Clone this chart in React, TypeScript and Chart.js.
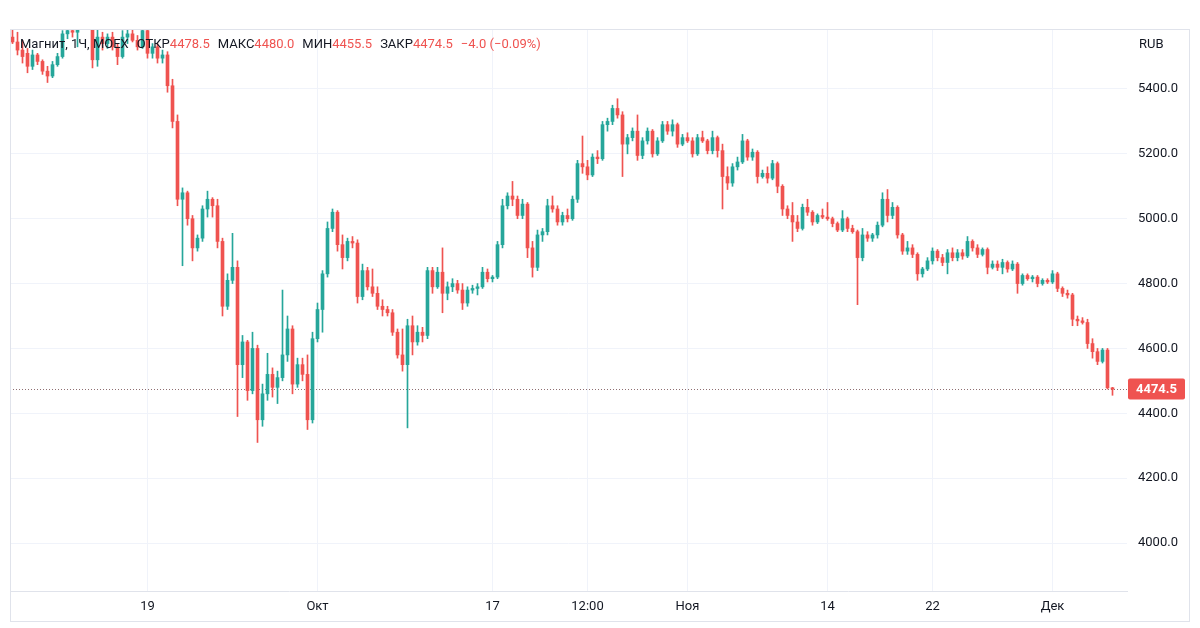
import { useEffect, useRef } from 'react';
import { Chart, registerables } from 'chart.js';

Chart.register(...registerables);

// ---------- data (hourly candles) ----------
const opens = [
  5560, 5545, 5520, 5510, 5470, 5505, 5485, 5455, 5440, 5475,
  5500, 5570, 5580, 5575, 5600, 5630, 5605, 5490, 5560, 5540,
  5560, 5530, 5500, 5560, 5570, 5550, 5530, 5580, 5510, 5530,
  5495, 5505, 5410, 5300, 5060, 5080, 5000, 4910, 4940, 5030,
  5060, 5040, 4930, 4730, 4810, 4850, 4550, 4620, 4470, 4600,
  4380, 4460, 4520, 4480, 4510, 4580, 4660, 4490, 4550, 4520,
  4380, 4630, 4720, 4830, 4970, 5020, 4920, 4880, 4930, 4925,
  4760, 4840, 4790, 4770, 4730, 4720, 4710, 4650, 4580, 4550,
  4670, 4620, 4650, 4640, 4840, 4790, 4835, 4770, 4790, 4800,
  4780, 4740, 4780, 4785, 4790, 4835, 4815, 4820, 4920, 5040,
  5070, 5060, 5010, 5045, 4910, 4850, 4950, 4960, 5040, 5030,
  4990, 5010, 5000, 5060, 5170, 5160, 5135, 5190, 5185, 5290,
  5300, 5340, 5320, 5230, 5250, 5270, 5195, 5240, 5270, 5200,
  5240, 5290, 5270, 5290, 5230, 5250, 5240, 5200, 5250, 5240,
  5210, 5250, 5210, 5130, 5110, 5160, 5175, 5240, 5190, 5205,
  5130, 5140, 5125, 5170, 5100, 5030, 5010, 4990, 4970, 5035,
  5020, 4990, 5010, 5005, 5000, 4985, 4965, 5000, 4970, 4960,
  4880, 4950, 4940, 4950, 4980, 5060, 5010, 5035, 4950, 4900,
  4910, 4890, 4830, 4845, 4870, 4900, 4880, 4865, 4895, 4880,
  4895, 4885, 4930, 4910, 4890, 4905, 4850, 4860, 4850, 4865,
  4845, 4860, 4800, 4825, 4815, 4820, 4800, 4810, 4805, 4830,
  4785, 4770, 4765, 4690, 4685, 4680, 4615, 4590, 4560, 4595,
  4478.5,
];
const highs = [
  5620, 5575, 5550, 5525, 5520, 5510, 5490, 5470, 5485, 5510,
  5580, 5600, 5610, 5600, 5650, 5660, 5620, 5590, 5575, 5570,
  5575, 5540, 5580, 5590, 5585, 5565, 5600, 5590, 5540, 5540,
  5520, 5515, 5430, 5320, 5095, 5085, 5010, 4950, 5040, 5085,
  5065, 5060, 4940, 4830, 4955, 4870, 4640, 4625, 4650, 4610,
  4490, 4585, 4540, 4530, 4780, 4700, 4670, 4570, 4570, 4580,
  4650, 4740, 4840, 4990, 5030, 5025, 4950, 4940, 4945, 4935,
  4860, 4850, 4845, 4790, 4750, 4730, 4720, 4660, 4660, 4690,
  4700, 4670, 4665, 4850, 4850, 4850, 4910, 4805, 4815, 4810,
  4800, 4790, 4795, 4800, 4850, 4845, 4825, 4930, 5060, 5080,
  5115, 5070, 5060, 5050, 4930, 4965, 4970, 5060, 5070, 5040,
  5020, 5030, 5070, 5180, 5255, 5180, 5200, 5210, 5300, 5310,
  5350, 5370, 5330, 5260, 5280, 5320, 5250, 5280, 5275, 5250,
  5300, 5300, 5305, 5295, 5260, 5265, 5250, 5260, 5270, 5245,
  5270, 5255, 5230, 5160, 5170, 5190, 5260, 5245, 5215, 5210,
  5150, 5160, 5180, 5175, 5105, 5040, 5050, 5010, 5045, 5060,
  5025, 5015, 5030, 5050, 5005, 4990, 5025, 5005, 4980, 4965,
  4970, 4960, 4955, 4990, 5080, 5090, 5050, 5040, 4955, 4930,
  4920, 4895, 4850, 4880, 4910, 4905, 4890, 4905, 4910, 4905,
  4905, 4945, 4935, 4920, 4910, 4910, 4870, 4870, 4875, 4870,
  4870, 4865, 4830, 4830, 4825, 4825, 4815, 4815, 4840, 4835,
  4790, 4780, 4770, 4700, 4695, 4690, 4630, 4600, 4600, 4600,
  4480,
];
const lows = [
  5540, 5505, 5480, 5450, 5460, 5475, 5445, 5420, 5435, 5470,
  5495, 5555, 5560, 5530, 5590, 5600, 5465, 5470, 5520, 5525,
  5520, 5475, 5495, 5540, 5545, 5520, 5525, 5495, 5495, 5480,
  5480, 5390, 5280, 5040, 4855, 4980, 4870, 4900, 4930, 5005,
  5005, 4910, 4700, 4720, 4800, 4390, 4510, 4440, 4460, 4310,
  4360, 4440, 4450, 4430, 4500, 4560, 4460, 4480, 4500, 4350,
  4370, 4620, 4650, 4820, 4960, 4900, 4845, 4870, 4910, 4740,
  4750, 4780, 4760, 4720, 4700, 4700, 4640, 4570, 4530, 4355,
  4580, 4610, 4620, 4630, 4770, 4785, 4710, 4750, 4775, 4770,
  4720, 4730, 4770, 4765, 4785, 4805, 4805, 4815, 4910, 5030,
  5040, 5000, 5000, 4880, 4820, 4840, 4930, 4950, 5020, 4980,
  4980, 4990, 4995, 5050, 5140, 5120, 5130, 5170, 5180, 5270,
  5290, 5310, 5130, 5200, 5240, 5180, 5185, 5230, 5190, 5195,
  5235, 5260, 5255, 5220, 5225, 5235, 5190, 5195, 5235, 5200,
  5200, 5190, 5030, 5090, 5100, 5150, 5170, 5180, 5180, 5110,
  5125, 5110, 5120, 5080, 5010, 5000, 4930, 4960, 4965, 5010,
  4980, 4985, 5000, 4995, 4975, 4960, 4960, 4960, 4955, 4735,
  4870, 4930, 4930, 4940, 4975, 4990, 5000, 4940, 4890, 4890,
  4880, 4810, 4820, 4840, 4860, 4870, 4855, 4830, 4870, 4870,
  4875, 4880, 4900, 4880, 4885, 4830, 4845, 4840, 4830, 4835,
  4840, 4770, 4795, 4810, 4805, 4790, 4795, 4800, 4800, 4775,
  4760, 4755, 4670, 4670, 4675, 4600, 4570, 4550, 4555, 4475,
  4455.5,
];
const closes = [
  5545, 5520, 5500, 5470, 5505, 5485, 5455, 5440, 5475, 5500,
  5570, 5580, 5575, 5595, 5630, 5615, 5490, 5560, 5540, 5560,
  5530, 5500, 5560, 5570, 5550, 5530, 5580, 5510, 5530, 5495,
  5505, 5410, 5300, 5060, 5080, 5000, 4910, 4940, 5030, 5060,
  5040, 4930, 4730, 4810, 4850, 4550, 4620, 4470, 4600, 4380,
  4460, 4520, 4480, 4510, 4580, 4660, 4490, 4550, 4520, 4380,
  4630, 4720, 4830, 4970, 5020, 4920, 4880, 4930, 4925, 4760,
  4840, 4790, 4770, 4730, 4720, 4710, 4650, 4580, 4550, 4670,
  4620, 4650, 4640, 4840, 4790, 4835, 4770, 4790, 4800, 4780,
  4740, 4780, 4785, 4790, 4835, 4815, 4820, 4920, 5040, 5070,
  5060, 5010, 5045, 4910, 4850, 4950, 4960, 5040, 5030, 4990,
  5010, 5000, 5060, 5170, 5160, 5135, 5190, 5185, 5290, 5300,
  5340, 5320, 5230, 5250, 5270, 5195, 5240, 5270, 5200, 5240,
  5290, 5270, 5290, 5230, 5250, 5240, 5200, 5250, 5240, 5210,
  5250, 5210, 5130, 5110, 5160, 5175, 5240, 5190, 5205, 5130,
  5140, 5125, 5170, 5100, 5030, 5010, 4990, 4970, 5035, 5020,
  4990, 5010, 5005, 5000, 4985, 4965, 5000, 4970, 4960, 4880,
  4950, 4940, 4950, 4980, 5060, 5010, 5035, 4950, 4900, 4910,
  4890, 4830, 4845, 4870, 4900, 4880, 4865, 4895, 4880, 4895,
  4885, 4930, 4910, 4890, 4905, 4850, 4860, 4850, 4865, 4845,
  4860, 4800, 4825, 4815, 4820, 4800, 4810, 4805, 4830, 4785,
  4770, 4765, 4690, 4685, 4680, 4615, 4590, 4560, 4595, 4478.5,
  4474.5,
];

// x-axis labels: candle index where each label sits
const xTickIndex = [27, 61, 96, 115, 135, 163, 184, 208];
const xTickLabels = ['19', 'Окт', '17', '12:00', 'Ноя', '14', '22', 'Дек'];
const yTicks = [4000, 4200, 4400, 4600, 4800, 5000, 5200, 5400];

const symbolTitle = 'Магнит, 1Ч, MOEX';
const currency = 'RUB';
const legendKeys = ['ОТКР', 'МАКС', 'МИН', 'ЗАКР'];

// ---------- styles ----------
const UP = '#26a69a';
const DOWN = '#ef5350';
const TEXT = '#131722';
const GRID = '#f0f3fa';
const BORDER = '#e0e3eb';
const FONT = 'Roboto, "Noto Sans", sans-serif';

export default function App() {
  const ref = useRef<HTMLCanvasElement | null>(null);

  useEffect(() => {
    const canvas = ref.current;
    if (!canvas) return;
    const n = closes.length;
    const colors = closes.map((c, i) => (c >= opens[i] ? UP : DOWN));

    const overlay = {
      id: 'overlay',
      beforeDraw(chart: any) {
        const ctx = chart.ctx;
        ctx.save();
        ctx.fillStyle = '#ffffff';
        ctx.fillRect(0, 0, chart.width, chart.height);
        ctx.restore();
      },
      beforeDatasetsDraw(chart: any) {
        const { ctx, chartArea, scales } = chart;
        const last = closes[n - 1];
        const py = Math.round(scales.y.getPixelForValue(last)) + 0.5;
        ctx.save();
        ctx.strokeStyle = '#8f6f72';
        ctx.lineWidth = 1;
        ctx.setLineDash([1, 2]);
        ctx.beginPath();
        ctx.moveTo(chartArea.left, py);
        ctx.lineTo(chartArea.right, py);
        ctx.stroke();
        ctx.restore();
      },
      afterDraw(chart: any) {
        const { ctx, chartArea, scales } = chart;
        const last = closes[n - 1];
        const prev = closes[n - 2];
        const py = Math.round(scales.y.getPixelForValue(last));
        const valColor = last >= prev ? UP : DOWN;
        ctx.save();
        // outer frame
        ctx.strokeStyle = BORDER;
        ctx.lineWidth = 1;
        ctx.strokeRect(chartArea.left + 0.5, chartArea.top + 0.5, chart.width - 10 - chartArea.left - 1, chart.height - 6 - chartArea.top - 1);
        // last price label
        const bx = chartArea.right + 1;
        const bw = 57;
        const bh = 21;
        ctx.fillStyle = valColor;
        ctx.beginPath();
        ctx.roundRect(bx, py - bh / 2, bw, bh, 2);
        ctx.fill();
        ctx.fillStyle = '#ffffff';
        ctx.font = `bold 13px ${FONT}`;
        ctx.textAlign = 'center';
        ctx.textBaseline = 'middle';
        ctx.fillText(last.toFixed(1), bx + bw / 2, py + 0.5);
        // currency
        ctx.fillStyle = TEXT;
        ctx.font = `13px ${FONT}`;
        ctx.textAlign = 'left';
        ctx.fillText(currency, chartArea.right + 12, chartArea.top + 16);
        // legend header
        const change = last - prev;
        const pct = (change / prev) * 100;
        const fmt = (v: number, d: number) => (v < 0 ? '\u2212' : '+') + Math.abs(v).toFixed(d);
        const values = [opens[n - 1], highs[n - 1], lows[n - 1], last];
        let x = chartArea.left + 10;
        const y = chartArea.top + 16;
        ctx.fillStyle = TEXT;
        ctx.fillText(symbolTitle, x, y);
        x += ctx.measureText(symbolTitle).width + 8;
        legendKeys.forEach((k, i) => {
          ctx.fillStyle = TEXT;
          ctx.fillText(k, x, y);
          x += ctx.measureText(k).width;
          const s = values[i].toFixed(1);
          ctx.fillStyle = valColor;
          ctx.fillText(s, x, y);
          x += ctx.measureText(s).width + 8;
        });
        const tail = `${fmt(change, 1)} (${fmt(pct, 2)}%)`;
        ctx.fillStyle = valColor;
        ctx.fillText(tail, x, y);
        ctx.restore();
      },
    };

    const chart = new Chart(canvas, {
      type: 'bar',
      data: {
        datasets: [
          {
            label: 'wick',
            data: closes.map((_, i) => ({ x: i, y: [lows[i], highs[i]] })) as any,
            backgroundColor: colors,
            borderWidth: 0,
            barThickness: 1,
            grouped: false,
            borderSkipped: false,
          } as any,
          {
            label: 'body',
            data: closes.map((c, i) => ({ x: i, y: [opens[i], c] })) as any,
            backgroundColor: colors,
            borderWidth: 0,
            barThickness: 3,
            minBarLength: 1,
            grouped: false,
            borderSkipped: false,
          } as any,
        ],
      },
      options: {
        animation: false,
        responsive: false,
        layout: { padding: { left: 10, top: 29, right: 10, bottom: 6 } },
        plugins: {
          legend: { display: false },
          tooltip: { enabled: false },
          title: { display: false },
        },
        scales: {
          x: {
            type: 'linear',
            min: -0.5,
            max: 222.9,
            offset: false,
            grid: { color: GRID, drawTicks: false, offset: false },
            border: { color: BORDER },
            ticks: {
              autoSkip: false,
              maxRotation: 0,
              padding: 8,
              color: TEXT,
              font: { family: FONT, size: 13 },
              callback: (v: any) => {
                const k = xTickIndex.indexOf(Number(v));
                return k >= 0 ? xTickLabels[k] : '';
              },
            },
            afterBuildTicks: (s: any) => {
              s.ticks = xTickIndex.map((v) => ({ value: v }));
            },
            afterFit: (s: any) => {
              s.height = 31;
            },
          } as any,
          y: {
            position: 'right',
            min: 3852,
            max: 5585,
            grid: { color: GRID, drawTicks: false },
            border: { display: false },
            ticks: {
              padding: 11,
              color: TEXT,
              font: { family: FONT, size: 13 },
              callback: (v: any) => Number(v).toFixed(1),
            },
            afterBuildTicks: (s: any) => {
              s.ticks = yTicks.map((v) => ({ value: v }));
            },
            afterFit: (s: any) => {
              s.width = 63;
            },
          } as any,
        },
      },
      plugins: [overlay],
    });
    return () => chart.destroy();
  }, []);

  return (
    <div style={{ position: 'fixed', left: 0, top: 0, width: 1200, height: 628, background: '#ffffff' }}>
      <canvas ref={ref} width={1200} height={628} style={{ display: 'block' }} />
    </div>
  );
}
